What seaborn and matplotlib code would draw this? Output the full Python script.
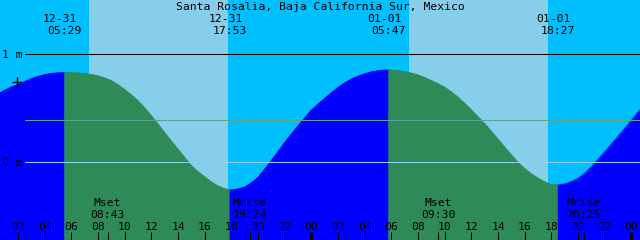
import matplotlib
matplotlib.use('Agg')
import matplotlib.pyplot as plt
import matplotlib.transforms as mtransforms
import seaborn as sns
import pandas as pd

# ---------------- data ----------------
station = "Santa Rosalia, Baja California Sur, Mexico"
start_hour = 0.64          # hours after 12-31 00:00 at the left edge
span_hours = 48

tide_event_dates = ['12-31', '12-31', '01-01', '01-01']
tide_event_clock = ['05:29', '17:53', '05:47', '18:27']
tide_event_hours = [5.48, 17.88, 29.78, 42.45]

sunrise_hours = [7.35, 31.35]
sunset_hours = [17.77, 41.77]

moon_event_names = ['Mset', 'Mrise', 'Mset', 'Mrise']
moon_event_clock = ['08:43', '19:24', '09:30', '20:25']
moon_event_day_offset = [0, 0, 24, 24]

hour_ticks = [2, 4, 6, 8, 10, 12, 14, 16, 18, 20, 22, 24,
              26, 28, 30, 32, 34, 36, 38, 40, 42, 44, 46, 48]
hour_tick_labels = ['02', '04', '06', '08', '10', '12', '14', '16', '18', '20', '22', '00',
                    '02', '04', '06', '08', '10', '12', '14', '16', '18', '20', '22', '00']
midnight_hours = [24, 48]

level_labels = ['1 m', '0 m']
level_values = [1.0, 0.0]
mean_sea_level = 0.389

mark_hour = 1.88
mark_level = 0.74

# tide level (hours since 12-31 00:00, metres)
curve_hours = [0.64, 1.0, 1.5, 2.0, 2.5, 3.0, 3.5, 4.0, 4.5, 5.0, 5.48,
               6.0, 6.5, 7.0, 7.5, 8.0, 8.5, 9.0, 9.5, 10.0, 10.5, 11.0, 11.5,
               12.0, 12.5, 13.0, 13.5, 14.0, 14.5, 15.0, 15.5, 16.0, 16.5, 17.0, 17.5, 17.88,
               18.0, 18.5, 19.0, 19.5, 20.0, 20.5, 21.0, 21.5, 22.0, 22.5, 23.0, 23.5,
               24.0, 24.5, 25.0, 25.5, 26.0, 26.5, 27.0, 27.5, 28.0, 28.5, 29.0, 29.5, 29.78,
               30.0, 30.5, 31.0, 31.5, 32.0, 32.5, 33.0, 33.5, 34.0, 34.5, 35.0, 35.5,
               36.0, 36.5, 37.0, 37.5, 38.0, 38.5, 39.0, 39.5, 40.0, 40.5, 41.0, 41.5, 42.0, 42.45,
               42.5, 43.0, 43.5, 44.0, 44.5, 45.0, 45.5, 46.0, 46.5, 47.0, 47.5, 48.0, 48.64]
curve_levels = [0.642, 0.668, 0.697, 0.72, 0.749, 0.775, 0.796, 0.812, 0.823, 0.828, 0.83,
                0.829, 0.827, 0.822, 0.813, 0.80, 0.781, 0.756, 0.718, 0.672, 0.624, 0.57, 0.503,
                0.43, 0.352, 0.274, 0.196, 0.12, 0.043, -0.031, -0.088, -0.136, -0.183, -0.22, -0.245, -0.256,
                -0.255, -0.247, -0.229, -0.19, -0.139, -0.062, 0.018, 0.10, 0.185, 0.263, 0.339, 0.413,
                0.484, 0.540, 0.592, 0.645, 0.694, 0.736, 0.771, 0.798, 0.82, 0.837, 0.848, 0.854, 0.855,
                0.854, 0.848, 0.839, 0.825, 0.808, 0.784, 0.756, 0.727, 0.694, 0.651, 0.602, 0.545,
                0.484, 0.421, 0.357, 0.286, 0.213, 0.14, 0.068, 0.0, -0.059, -0.108, -0.148, -0.182, -0.207, -0.21,
                -0.21, -0.20, -0.178, -0.148, -0.10, -0.04, 0.028, 0.098, 0.17, 0.243, 0.316, 0.389, 0.49]

# ---------------- style ----------------
NIGHT = '#00BFFF'
DAY = '#87CEEB'
RISE = '#0000FF'
FALL = '#2E8B57'
FONT = 'DejaVu Sans Mono'
FS = 8.2

sns.set_theme(style='white')
plt.rcParams['font.family'] = [FONT, 'DejaVu Sans']

W, H = 640, 240
fig = plt.figure(figsize=(W / 100, H / 100), dpi=100)
ax = fig.add_axes([0, 0, 1, 1])

# vertical scale: 0 m at pixel row 162.3, 108 px per metre
px_per_m = 108.0
zero_row = 162.3
ymax = zero_row / px_per_m
ymin = (zero_row - H) / px_per_m

# sky: night and day
ax.axvspan(start_hour, start_hour + span_hours, color=NIGHT, lw=0, zorder=0)
for a, b in zip(sunrise_hours, sunset_hours):
    ax.axvspan(a, b, color=DAY, lw=0, zorder=0.1)

# water, split into rising / falling segments at each high and low
df = pd.DataFrame({'t': curve_hours, 'h': curve_levels})
bounds = [start_hour] + tide_event_hours + [start_hour + span_hours]
first_rising = curve_levels[1] > curve_levels[0]
parts = []
for i in range(len(bounds) - 1):
    seg = df[(df.t >= bounds[i]) & (df.t <= bounds[i + 1])].copy()
    rising = (i % 2 == 0) == first_rising
    seg['phase'] = 'rise' if rising else 'fall'
    seg['seg'] = i
    parts.append(seg)
    col = RISE if rising else FALL
    ax.fill_between(seg.t, seg.h, ymin - 1, color=col, lw=0.3, edgecolor=col, zorder=1)
curve = pd.concat(parts, ignore_index=True)
sns.lineplot(data=curve, x='t', y='h', hue='phase', units='seg', estimator=None,
             palette={'rise': RISE, 'fall': FALL}, legend=False, lw=0.6,
             sort=False, ax=ax, zorder=1.2)
ax.set_xlim(start_hour, start_hour + span_hours)
ax.set_ylim(ymin, ymax)
ax.set_axis_off()

# datum lines
line_start = 25 / W
ax.axhline(level_values[0], xmin=line_start, color='black', lw=0.75, zorder=2)
ax.axhline(level_values[1], xmin=line_start, color='#90D2EE', lw=0.75, zorder=2)
ax.axhline(mean_sea_level, xmin=line_start, color='#5AA58F', lw=0.75, zorder=2)

# helpers: x in data (hours), y in pixels from top
blend = mtransforms.blended_transform_factory(ax.transData, ax.transAxes)


def yfrac(row):
    return 1 - row / H


txt = dict(fontfamily=FONT, fontsize=FS, color='black', zorder=4)

# title
ax.text(0.5, yfrac(10), station, transform=ax.transAxes, ha='center', va='baseline', **txt)

# tide event labels at top
date_tr = mtransforms.offset_copy(blend, fig=fig, x=-4.5, y=0, units='dots')
for d, c, t in zip(tide_event_dates, tide_event_clock, tide_event_hours):
    ax.text(t, yfrac(21.6), d, transform=date_tr, ha='center', va='baseline', **txt)
    ax.text(t, yfrac(34), c, transform=blend, ha='center', va='baseline', **txt)

# level labels
for lab, val in zip(level_labels, level_values):
    row = zero_row - val * px_per_m + 4.2
    ax.text(1.5 / W, yfrac(row), lab, transform=ax.transAxes, ha='left', va='baseline', **txt)

# marker
ax.plot([mark_hour], [mark_level], marker='+', color='black', ms=7, mew=1.0,
        ls='none', zorder=4)

# moon events
moon_hours = []
for name, c, off in zip(moon_event_names, moon_event_clock, moon_event_day_offset):
    hh, mm = c.split(':')
    t = int(hh) + int(mm) / 60 + off
    moon_hours.append(t)
    ax.text(t, yfrac(206), name, transform=blend, ha='center', va='baseline', **txt)
    ax.text(t, yfrac(218), c, transform=blend, ha='center', va='baseline', **txt)

# hour ticks and labels
tick_top = 8.3 / H
for t, lab in zip(hour_ticks, hour_tick_labels):
    ax.text(t, yfrac(230), lab, transform=blend, ha='center', va='baseline', **txt)
thin = [t for t in hour_ticks if t not in midnight_hours] + moon_hours
ax.vlines(thin, 0, tick_top, transform=blend, color='black', lw=0.75, zorder=4)
ax.vlines(midnight_hours, 0, tick_top, transform=blend, color='black', lw=2.2, zorder=4)

fig.savefig('out.png', dpi=100)
